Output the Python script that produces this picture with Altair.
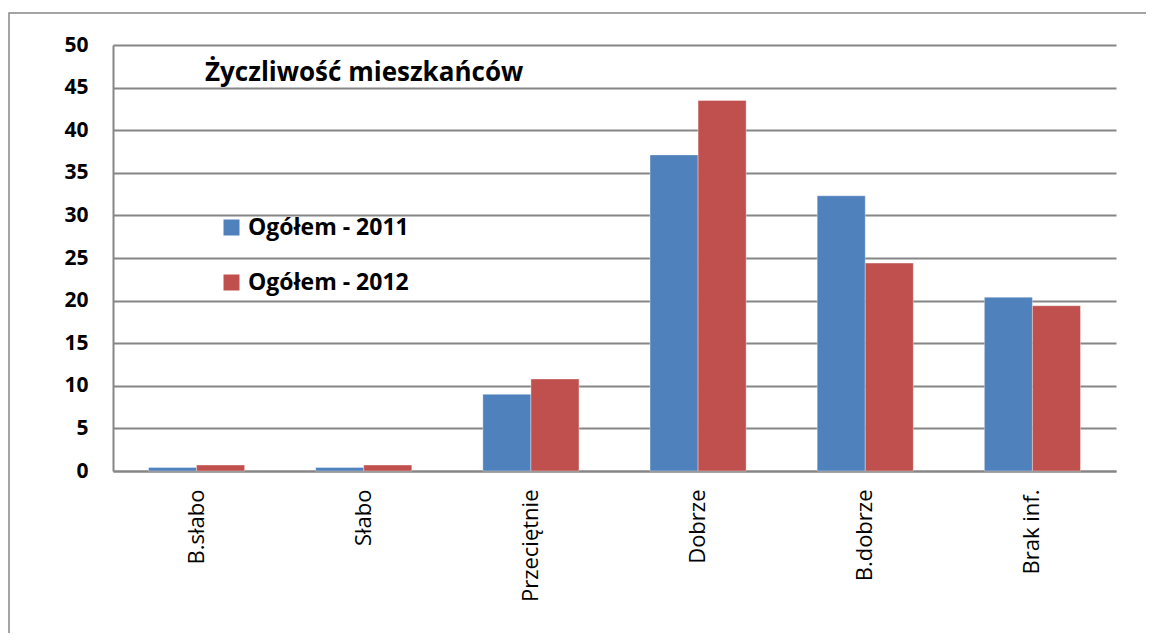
import altair as alt
import pandas as pd

categories = ["B.słabo", "Słabo", "Przeciętnie", "Dobrze", "B.dobrze", "Brak inf."]
series = ["Ogółem - 2011", "Ogółem - 2012"]
v2011 = [0.4, 0.4, 9.0, 37.1, 32.3, 20.4]
v2012 = [0.7, 0.7, 10.8, 43.5, 24.4, 19.4]
title_text = "Życzliwość mieszkańców"
colors = ["#4F81BD", "#C0504D"]

rows = []
for c, a, b in zip(categories, v2011, v2012):
    rows.append({"kat": c, "seria": series[0], "wartosc": a})
    rows.append({"kat": c, "seria": series[1], "wartosc": b})
df = pd.DataFrame(rows)

FONT = "Open Sans"
GRID = "#868686"

bars = alt.Chart(df).mark_bar(stroke="white", strokeWidth=0.6, strokeOpacity=0.6).encode(
    x=alt.X("kat:N", sort=categories,
            scale=alt.Scale(paddingInner=0.425, paddingOuter=0.2125),
            axis=alt.Axis(title=None, labelAngle=-90, labelFontSize=22, labelFont=FONT,
                          labelColor="black", labelPadding=18, ticks=False,
                          domainColor=GRID, domainWidth=2, labelFontWeight="normal")),
    xOffset=alt.XOffset("seria:N", sort=series),
    y=alt.Y("wartosc:Q", scale=alt.Scale(domain=[0, 50], nice=False),
            axis=alt.Axis(title=None, values=list(range(0, 51, 5)), tickCount=11,
                          labelFontSize=21, labelFont=FONT, labelFontWeight="bold",
                          labelColor="black", labelPadding=25, ticks=False,
                          domainColor=GRID, domainWidth=2,
                          gridColor=GRID, gridWidth=2)),
    color=alt.Color("seria:N", sort=series, scale=alt.Scale(domain=series, range=colors),
                    legend=alt.Legend(title=None, orient="none", legendX=107, legendY=171,
                                      symbolType="square", symbolSize=256, symbolStrokeWidth=0,
                                      labelFont=FONT, labelFontSize=23, labelFontWeight="bold",
                                      labelColor="black", labelOffset=5, rowPadding=31,
                                      labelLimit=500, padding=0)),
)

title = alt.Chart(pd.DataFrame({"t": [title_text]})).mark_text(
    align="left", baseline="alphabetic", font=FONT, fontSize=26, fontWeight="bold", color="black"
).encode(text="t:N", x=alt.value(92), y=alt.value(36))

frame = alt.Chart(pd.DataFrame({"t": [0]})).mark_rect(
    filled=False, stroke=GRID, strokeWidth=1.5
).encode(x=alt.value(-104), x2=alt.value(1200), y=alt.value(-32), y2=alt.value(800))

chart = alt.layer(frame, bars, title).properties(
    width=1003, height=426,
    autosize=alt.AutoSizeParams(type="none"),
    padding={"left": 105, "top": 37, "right": 30, "bottom": 162},
).configure_view(stroke=None).configure_axis(grid=True).configure_axisX(grid=False)

chart.save("out.html", embed_options={"renderer": "svg", "actions": False})
